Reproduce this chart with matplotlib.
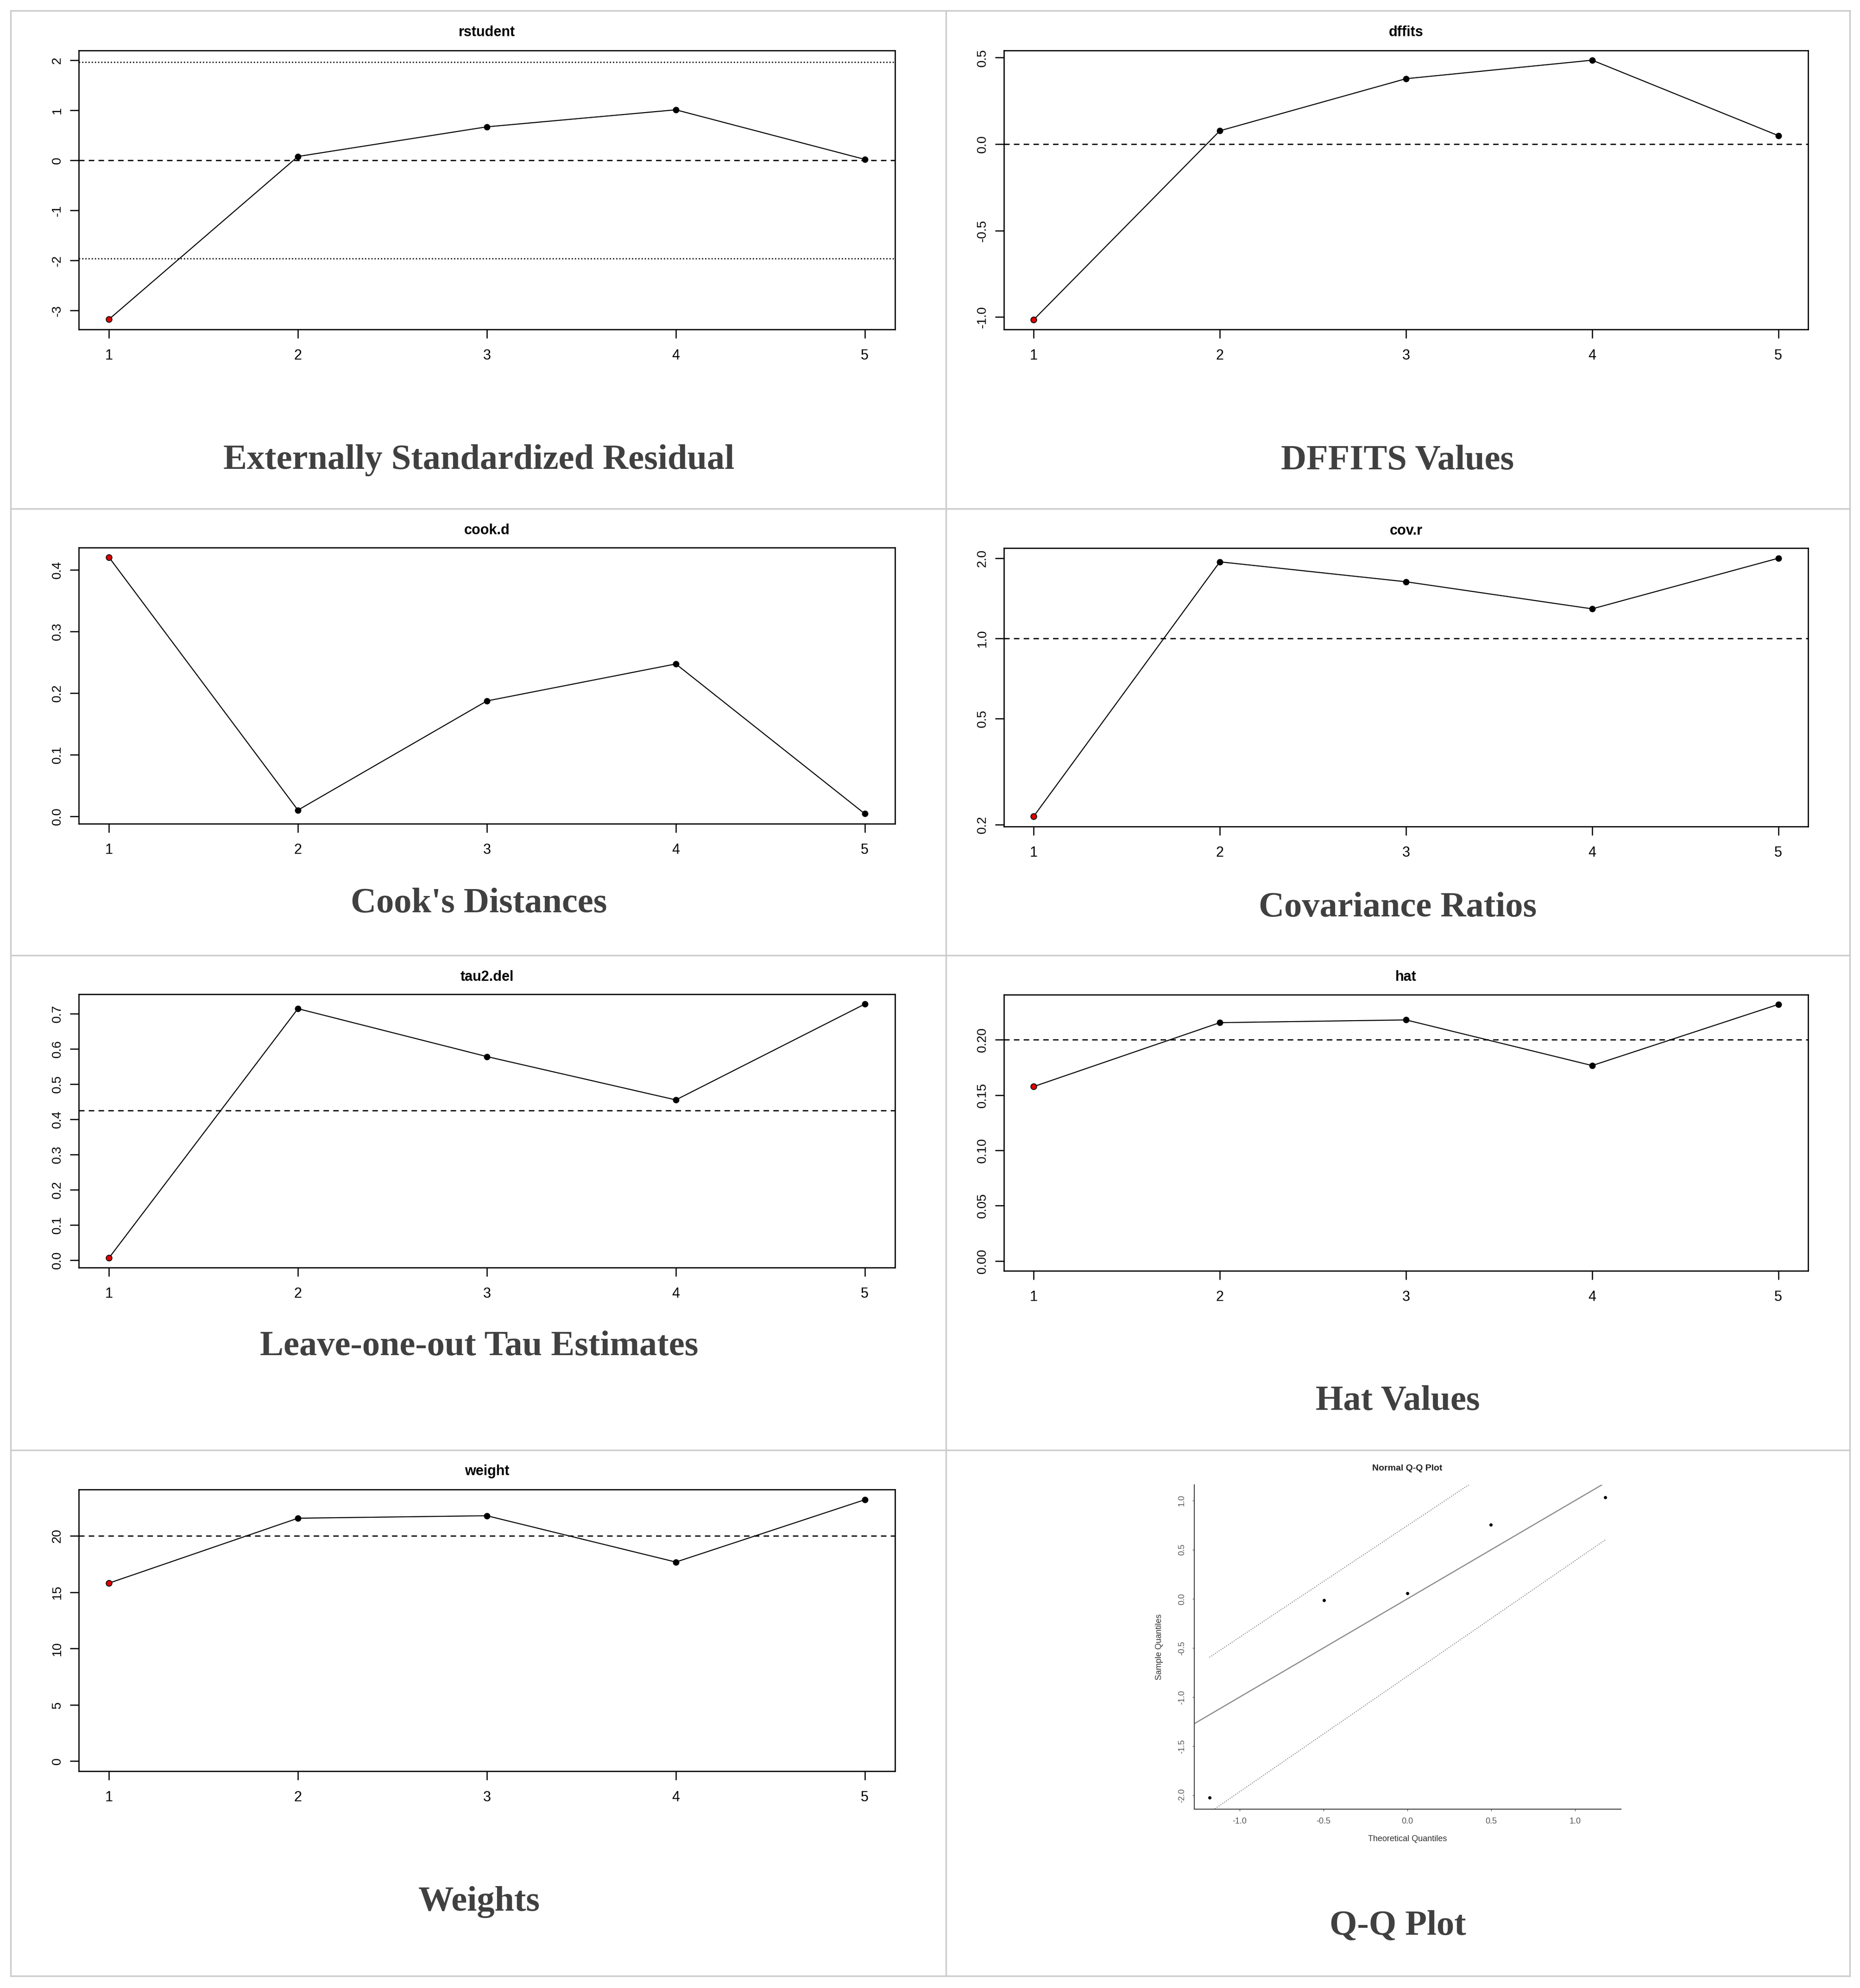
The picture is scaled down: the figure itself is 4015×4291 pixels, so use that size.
import numpy as np
import matplotlib.pyplot as plt
from matplotlib.lines import Line2D

# influence diagnostics, 5 studies
study = [1, 2, 3, 4, 5]
rstudent = [-3.175, 0.078, 0.67, 1.01, 0.02]
dffits = [-1.015, 0.077, 0.378, 0.485, 0.049]
cook_d = [0.42, 0.0099, 0.187, 0.247, 0.004]
cov_r = [0.215, 1.936, 1.63, 1.29, 1.997]
tau2_del = [0.0064, 0.714, 0.578, 0.455, 0.727]
hat = [0.1577, 0.2155, 0.218, 0.1767, 0.232]
weight = [15.8, 21.56, 21.78, 17.67, 23.2]

# Q-Q plot
qq_theo = [-1.18, -0.497, 0.0, 0.497, 1.18]
qq_samp = [-2.02, -0.013, 0.058, 0.754, 1.034]
env_x = [-1.18, 1.18]
env_up = [-0.595, 2.084]
env_lo = [-2.175, 0.60]

captions = ["Externally Standardized Residual", "DFFITS Values",
            "Cook's Distances", "Covariance Ratios",
            "Leave-one-out Tau Estimates", "Hat Values",
            "Weights", "Q-Q Plot"]

W, H = 4016, 4291
fig = plt.figure(figsize=(W / 100, H / 100), dpi=100)
fig.patch.set_facecolor("white")

SANS = "Liberation Sans"
SERIF = "Liberation Serif"


def px_axes(l, t, r, b):
    return fig.add_axes([l / W, 1 - b / H, (r - l) / W, (b - t) / H])


def fig_text(x, y, s, **kw):
    fig.text(x / W, 1 - y / H, s, **kw)


# table grid
grid_c = "#cccccc"
for gx in [23, 2042, 3993]:
    fig.add_artist(Line2D([gx / W, gx / W], [1 - 23 / H, 1 - 4265 / H],
                          transform=fig.transFigure, color=grid_c, lw=2.4))
for gy in [23, 1098, 2062, 3130, 4265]:
    fig.add_artist(Line2D([23 / W, 3993 / W], [1 - gy / H, 1 - gy / H],
                          transform=fig.transFigure, color=grid_c, lw=2.4))

dash = (0, (4.5, 3.5))
dot = (0, (1, 1.6))


def index_panel(box, title_y, name, vals, ylim, yticks, ylabels, hlines, log=False):
    ax = px_axes(*box)
    if log:
        ax.set_yscale("log")
    for yv, ls in hlines:
        ax.axhline(yv, color="black", lw=1.9, linestyle=ls)
    ax.plot(study, vals, color="black", lw=1.6, zorder=3)
    ax.plot(study[1:], vals[1:], "o", color="black", ms=9, zorder=4)
    ax.plot(study[:1], vals[:1], "o", mfc="#e00000", mec="black", mew=1.3, ms=9, zorder=4)
    ax.set_xlim(0.84, 5.16)
    ax.set_ylim(*ylim)
    ax.set_xticks(study)
    ax.set_xticklabels([str(s) for s in study], fontsize=22, family=SANS)
    ax.minorticks_off()
    ax.set_yticks(yticks)
    ax.set_yticklabels(ylabels, fontsize=20, family=SANS, rotation=90, va="center")
    ax.tick_params(axis="x", length=14, width=1.8, pad=16)
    ax.tick_params(axis="y", length=14, width=1.8, pad=10)
    for sp in ax.spines.values():
        sp.set_linewidth(1.9)
    fig_text((box[0] + box[2]) / 2, title_y, name, fontsize=22, weight="bold",
             family=SANS, ha="center", va="center")
    return ax


index_panel((170, 109, 1932, 711), 70, "rstudent", rstudent, (-3.377, 2.195),
            [-3, -2, -1, 0, 1, 2], ["-3", "-2", "-1", "0", "1", "2"],
            [(0, dash), (1.96, dot), (-1.96, dot)])
index_panel((2167, 109, 3903, 711), 70, "dffits", dffits, (-1.071, 0.541),
            [-1.0, -0.5, 0.0, 0.5], ["-1.0", "-0.5", "0.0", "0.5"], [(0, dash)])
index_panel((170, 1182, 1932, 1778), 1145, "cook.d", cook_d, (-0.0122, 0.4357),
            [0.0, 0.1, 0.2, 0.3, 0.4], ["0.0", "0.1", "0.2", "0.3", "0.4"], [])
index_panel((2167, 1183, 3903, 1784), 1146, "cov.r", cov_r, (0.197, 2.18),
            [0.2, 0.5, 1.0, 2.0], ["0.2", "0.5", "1.0", "2.0"], [(1.0, dash)], log=True)
index_panel((170, 2146, 1932, 2736), 2109, "tau2.del", tau2_del, (-0.021, 0.755),
            [0.0, 0.1, 0.2, 0.3, 0.4, 0.5, 0.6, 0.7],
            ["0.0", "0.1", "0.2", "0.3", "0.4", "0.5", "0.6", "0.7"], [(0.425, dash)])
index_panel((2167, 2147, 3903, 2743), 2109, "hat", hat, (-0.009, 0.2408),
            [0.0, 0.05, 0.10, 0.15, 0.20], ["0.00", "0.05", "0.10", "0.15", "0.20"],
            [(0.2, dash)])
index_panel((170, 3215, 1932, 3823), 3176, "weight", weight, (-0.89, 24.11),
            [0, 5, 10, 15, 20], ["0", "5", "10", "15", "20"], [(20, dash)])

# Q-Q plot
qax = px_axes(2578, 3205, 3499, 3905)
qax.axline((0, 0), slope=1, color="#8c8c8c", lw=1.8)
qax.plot(env_x, env_up, color="#808080", lw=1.4, linestyle=(0, (1, 1.5)))
qax.plot(env_x, env_lo, color="#808080", lw=1.4, linestyle=(0, (1, 1.5)))
qax.plot(qq_theo, qq_samp, "o", color="black", ms=4)
qax.set_xlim(-1.27, 1.274)
qax.set_ylim(-2.14, 1.16)
qax.set_xticks([-1.0, -0.5, 0.0, 0.5, 1.0])
qax.set_xticklabels(["-1.0", "-0.5", "0.0", "0.5", "1.0"], fontsize=13, family=SANS, color="#333333")
qax.set_yticks([-2.0, -1.5, -1.0, -0.5, 0.0, 0.5, 1.0])
qax.set_yticklabels(["-2.0", "-1.5", "-1.0", "-0.5", "0.0", "0.5", "1.0"], fontsize=13,
                    family=SANS, color="#333333", rotation=90, va="center")
qax.tick_params(length=3, width=1.0, colors="#555555", pad=10)
for side in ["top", "right"]:
    qax.spines[side].set_visible(False)
for side in ["left", "bottom"]:
    qax.spines[side].set_linewidth(1.5)
    qax.spines[side].set_color("#444444")
fig_text(3038, 3170, "Normal Q-Q Plot", fontsize=14, weight="bold", family=SANS,
         ha="center", va="center", color="#222222")
fig_text(3038, 3969, "Theoretical Quantiles", fontsize=13, family=SANS,
         ha="center", va="center", color="#333333")
fig_text(2503, 3555, "Sample Quantiles", fontsize=13, family=SANS, rotation=90,
         ha="center", va="center", color="#333333")

# captions under each panel
cap_pos = [(1034, 994), (3017, 994), (1034, 1951), (3017, 1959),
           (1034, 2906), (3017, 3024), (1034, 4106), (3017, 4158)]
for (cx, cy), txt in zip(cap_pos, captions):
    fig_text(cx, cy, txt, fontsize=55, weight="bold", family=SERIF,
             ha="center", va="center", color="#404040")

fig.savefig("out.png", dpi=100)
